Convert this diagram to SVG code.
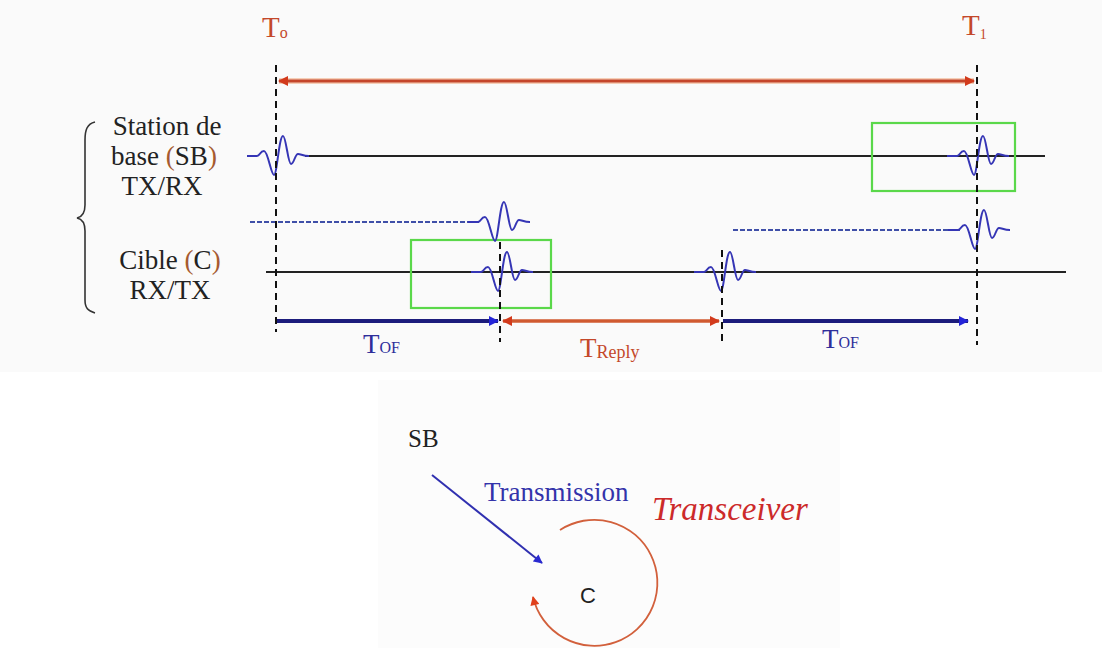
<svg xmlns="http://www.w3.org/2000/svg" xmlns:xlink="http://www.w3.org/1999/xlink" width="1102" height="648" viewBox="0 0 1102 648">
<style>
.lbl{font-family:"Liberation Serif","Times New Roman",serif;fill:#222}
.red{fill:#c4482a}
.blu{fill:#2e2e9a}
.par{fill:#a65a30}
.base{stroke:#222;stroke-width:1.8;fill:none}
.dashb{stroke:#3f4fa8;stroke-width:1.8;stroke-dasharray:5 2;fill:none}
.vdash{stroke:#111;stroke-width:2;stroke-dasharray:7 5;fill:none}
.pulse{stroke:#3535b5;stroke-width:2;fill:none}
.box{stroke:#5ad84a;stroke-width:2.2;fill:none}
</style>
<defs>
<path id="w" d="M-28,0 L-18,0 C-15,0 -15,-5 -11,-5 C-7,-5 -4,19 -1,19 C2,19 4,-20 8,-20 C11,-20 13,8 16,8 C19,8 20,-2 23,-2 C26,-2 28,0 34,0"/>
<marker id="ar" viewBox="0 0 10 10" refX="9" refY="5" markerUnits="userSpaceOnUse" markerWidth="11" markerHeight="10" orient="auto-start-reverse"><path d="M0,0 L10,5 L0,10 z" fill="#d23a1c"/></marker>
<marker id="ab" viewBox="0 0 10 10" refX="9" refY="5" markerUnits="userSpaceOnUse" markerWidth="11" markerHeight="10" orient="auto"><path d="M0,0 L10,5 L0,10 z" fill="#2424d8"/></marker>
<marker id="ab2" viewBox="0 0 10 10" refX="9" refY="5" markerUnits="userSpaceOnUse" markerWidth="10" markerHeight="9" orient="auto"><path d="M0,0 L10,5 L0,10 z" fill="#2a2ad0"/></marker>
<marker id="ar2" viewBox="0 0 10 10" refX="9" refY="5" markerUnits="userSpaceOnUse" markerWidth="10" markerHeight="9" orient="auto"><path d="M0,0 L10,5 L0,10 z" fill="#e0401c"/></marker>
</defs>
<rect x="0" y="0" width="1102" height="648" fill="#ffffff"/>
<rect x="0" y="0" width="1102" height="372" fill="#fafafa"/>
<rect x="378" y="380" width="462" height="268" fill="#fcfcfc"/>

<g id="labels-time">
<text class="lbl red" x="262" y="37" font-size="29">T<tspan font-size="16" dy="1">o</tspan></text>
<text class="lbl red" x="962" y="35" font-size="29">T<tspan font-size="14" dy="4">1</tspan></text>
</g>

<g id="brace">
<path d="M95,122 C87,124 85,130 85,140 L85,205 C85,213 82,217 77,218 C82,219 85,223 85,231 L85,300 C85,308 88,311 95,313" fill="none" stroke="#333" stroke-width="1.6"/>
</g>

<g id="node-sb">
<text class="lbl" x="167" y="135" font-size="27" text-anchor="middle">Station de</text>
<text class="lbl" x="164" y="165" font-size="27" text-anchor="middle">base <tspan class="par">(</tspan>SB<tspan class="par">)</tspan></text>
<text class="lbl" x="162" y="195" font-size="27" text-anchor="middle">TX/RX</text>
</g>

<g id="node-cible">
<text class="lbl" x="170" y="269" font-size="27" text-anchor="middle">Cible <tspan class="par">(</tspan>C<tspan class="par">)</tspan></text>
<text class="lbl" x="170" y="299" font-size="27" text-anchor="middle">RX/TX</text>
</g>

<g id="timelines">
<line class="base" x1="305" y1="156" x2="1045" y2="156"/>
<line class="base" x1="266" y1="272" x2="1066" y2="272"/>
<line class="dashb" x1="250" y1="222" x2="480" y2="222"/>
<line class="dashb" x1="733" y1="230" x2="960" y2="230"/>
</g>

<g id="boxes">
<rect class="box" x="872" y="123" width="143" height="68"/>
<rect class="box" x="411" y="240" width="140" height="68"/>
</g>

<g id="pulses">
<use xlink:href="#w" href="#w" class="pulse" transform="translate(275,156)"/>
<use xlink:href="#w" href="#w" class="pulse" transform="translate(975,156)"/>
<use xlink:href="#w" href="#w" class="pulse" transform="translate(496,222)"/>
<use xlink:href="#w" href="#w" class="pulse" transform="translate(499,272)"/>
<use xlink:href="#w" href="#w" class="pulse" transform="translate(722,272)"/>
<use xlink:href="#w" href="#w" class="pulse" transform="translate(976,230)"/>
</g>

<g id="markers-vertical">
<line class="vdash" x1="276" y1="65" x2="276" y2="332"/>
<line class="vdash" x1="977" y1="65" x2="977" y2="345"/>
<line class="vdash" x1="500" y1="242" x2="500" y2="342"/>
<line class="vdash" x1="722" y1="250" x2="722" y2="342"/>
</g>

<g id="connectors">
<line x1="279" y1="81" x2="974" y2="81" stroke="#f2b28c" stroke-width="6" opacity="0.6"/>
<line x1="279" y1="81" x2="974" y2="81" stroke="#c4452a" stroke-width="3" marker-start="url(#ar)" marker-end="url(#ar)"/>
<line x1="277" y1="321" x2="498" y2="321" stroke="#1c1c7c" stroke-width="4" marker-end="url(#ab)"/>
<line x1="503" y1="321" x2="719" y2="321" stroke="#d05a30" stroke-width="3.5" marker-start="url(#ar)" marker-end="url(#ar)"/>
<line x1="723" y1="321" x2="968" y2="321" stroke="#1c1c7c" stroke-width="4" marker-end="url(#ab)"/>
<line x1="432" y1="475" x2="542" y2="563" stroke="#3030b0" stroke-width="2" marker-end="url(#ab2)"/>
<path d="M560,530 A63,63 0 1 1 533,597" fill="none" stroke="#d2603c" stroke-width="1.8" marker-end="url(#ar2)"/>
</g>

<g id="labels-durations">
<text class="lbl blu" x="363" y="353" font-size="27">T<tspan font-size="16">OF</tspan></text>
<text class="lbl red" x="580" y="357" font-size="27">T<tspan font-size="18" dy="1">Reply</tspan></text>
<text class="lbl blu" x="822" y="348" font-size="27">T<tspan font-size="16">OF</tspan></text>
</g>

<g id="node-sb-small">
<text class="lbl" x="408" y="447" font-size="25">SB</text>
</g>
<g id="label-transmission">
<text class="lbl" x="484" y="501" font-size="27" style="fill:#3333aa">Transmission</text>
</g>
<g id="label-transceiver">
<text class="lbl" x="652" y="520" font-size="33" font-style="italic" style="fill:#cc2a2a">Transceiver</text>
</g>
<g id="node-c">
<text x="580" y="603" font-size="22" font-family="Liberation Sans, Arial, sans-serif" fill="#222">C</text>
</g>
</svg>
